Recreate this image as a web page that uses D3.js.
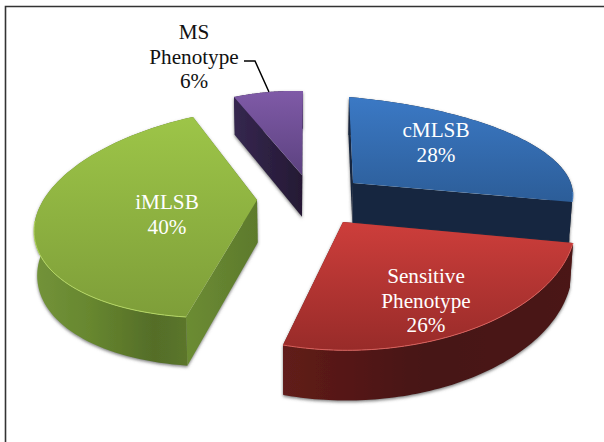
<!DOCTYPE html>
<html>
<head>
<meta charset="utf-8">
<script src="https://cdn.jsdelivr.net/npm/d3@7/dist/d3.min.js"></script>
<style>
  html, body { margin: 0; padding: 0; background: #fff; }
  svg { display: block; }
  text { font-family: "Liberation Serif", "Times New Roman", serif; font-size: 21.2px; text-anchor: middle; }
</style>
</head>
<body>
<svg id="chart" width="604" height="442"></svg>
<script>
// Share of each phenotype, clockwise from twelve o'clock.
const categories = ["cMLSB", "Sensitive Phenotype", "iMLSB", "MS Phenotype"];
const shares = [28, 26, 40, 6];
const labelLines = [["cMLSB"], ["Sensitive", "Phenotype"], ["iMLSB"], ["MS", "Phenotype"]];

// Exploded 3-D layout: each wedge has its own projective frame, given by where
// its tip, first edge, outer arc middle and last edge land on the page.
const frames = [
  { tip: [353, 183], start: [349, 97],  mid: [520, 138], end: [572, 202] },
  { tip: [343, 222], start: [573, 243], mid: [467, 331], end: [283, 345] },
  { tip: [257, 200], start: [186, 317], mid: [35, 221],  end: [193, 117] },
  { tip: [302, 175], start: [234, 97],  mid: [269, 92],  end: [303, 91] }
];
const labelAnchors = [[436, 137], [426, 283], [167, 209], [194, 39]];
const labelFill = ["#fff", "#fff", "#fff", "#111"];

const faceColors = [["#3b79c5", "#2c5d98"], ["#cd3e3b", "#982b29"], ["#9dc548", "#7e9e39"], ["#7f5aa7", "#5c4280"]];
const rimColors = ["#4a86cc", "#d9605c", "#b4d663", "#8d6ab3"];
const wallStops = [
  [[0, "#14263f"], [1, "#14263f"]],
  [[0, "#611c1a"], [0.5, "#461312"], [1, "#4b1614"]],
  [[0, "#73933a"], [0.35, "#67872f"], [0.75, "#546d28"], [1, "#5d782b"]],
  [[0, "#35274f"], [1, "#251934"]]
];
const radialWallColors = [["#14263f", "#14263f"], ["#611c1a", "#611c1a"], ["#6c8c33", "#5d7a2c"], ["#35274f", "#251934"]];

const svg = d3.select("#chart");
const defs = svg.append("defs");

// Soft grey halo under the extruded walls.
defs.append("filter").attr("id", "wallShadow")
    .attr("x", "-10%").attr("y", "-10%").attr("width", "120%").attr("height", "120%")
  .append("feDropShadow")
    .attr("dx", 0).attr("dy", 1.5).attr("stdDeviation", 1.8)
    .attr("flood-color", "#555").attr("flood-opacity", 0.75);

function gradient(id, x2, y2, stops) {
  const g = defs.append("linearGradient").attr("id", id)
    .attr("x1", 0).attr("y1", 0).attr("x2", x2).attr("y2", y2);
  stops.forEach(([o, c]) => g.append("stop").attr("offset", o).attr("stop-color", c));
}

// Gaussian elimination for the six projective coefficients.
function solve(A, b) {
  const n = b.length, m = A.map((r, i) => [...r, b[i]]);
  for (let i = 0; i < n; i++) {
    let p = i;
    for (let r = i + 1; r < n; r++) if (Math.abs(m[r][i]) > Math.abs(m[p][i])) p = r;
    [m[i], m[p]] = [m[p], m[i]];
    for (let r = 0; r < n; r++) {
      if (r === i) continue;
      const f = m[r][i] / m[i][i];
      for (let c = i; c <= n; c++) m[r][c] -= f * m[i][c];
    }
  }
  return m.map((r, i) => r[n] / r[i]);
}

// Projects a (angle, radius) pair of one wedge onto the page.
function projector(frame, arc) {
  const [x0, y0] = frame.tip;
  const theta = [arc.startAngle, (arc.startAngle + arc.endAngle) / 2, arc.endAngle];
  const pts = [frame.start, frame.mid, frame.end];
  const A = [], b = [];
  theta.forEach((t, i) => {
    const u = Math.sin(t), v = -Math.cos(t), X = pts[i][0] - x0, Y = pts[i][1] - y0;
    A.push([u, v, 0, 0, -X * u, -X * v]); b.push(X);
    A.push([0, 0, u, v, -Y * u, -Y * v]); b.push(Y);
  });
  const [p, q, r, s, g, h] = solve(A, b);
  return (t, rad) => {
    const u = rad * Math.sin(t), v = -rad * Math.cos(t), w = 1 + g * u + h * v;
    return [x0 + (p * u + q * v) / w, y0 + (r * u + s * v) / w];
  };
}

// The floor of the wedge: lower on the page where it is nearer the viewer.
const depthAt = d3.scaleLinear().domain([97, 345]).range([38, 50]);
const lower = ([x, y]) => [x + (300 - x) * 0.012, y + depthAt(y)];

const line = d3.line();
const pie = d3.pie().sort(null).value(d => d);
const arcs = pie(shares);
const drawOrder = [3, 2, 0, 1];

drawOrder.forEach(i => {
  const arc = arcs[i];
  const project = projector(frames[i], arc);
  const anglesAlong = d3.range(0, 81).map(k => arc.startAngle + (arc.endAngle - arc.startAngle) * k / 80);
  const arcPts = anglesAlong.map(t => project(t, 1));
  const tip = frames[i].tip;
  const floorArc = arcPts.map(lower);

  gradient("wall" + i, 1, 0, wallStops[i]);
  gradient("radial" + i, 1, 0, radialWallColors[i].map((c, k) => [k, c]));
  gradient("face" + i, 0, 1, faceColors[i].map((c, k) => [k, c]));

  const slice = svg.append("g").attr("class", "slice").attr("data-category", categories[i]);
  const walls = slice.append("g").attr("filter", "url(#wallShadow)");
  [arcPts[0], arcPts[80]].forEach(edge => {
    walls.append("path")
      .attr("d", line([tip, edge, lower(edge), lower(tip)]) + "Z")
      .attr("fill", `url(#radial${i})`);
  });
  walls.append("path")
    .attr("d", line(arcPts.concat(floorArc.slice().reverse())) + "Z")
    .attr("fill", `url(#wall${i})`);

  slice.append("path")
    .attr("d", line([tip].concat(arcPts)) + "Z")
    .attr("fill", `url(#face${i})`);

  // Light catches only the part of the rim turned toward the viewer.
  const frontRim = arcPts.filter((p, k) => Math.cos(anglesAlong[k]) < -0.05);
  if (frontRim.length > 1) {
    slice.append("path")
      .attr("d", line(frontRim))
      .attr("fill", "none")
      .attr("stroke", rimColors[i])
      .attr("stroke-width", 1);
  }
});

// Leader from the outside label to its wedge.
const msProject = projector(frames[3], arcs[3]);
const msMid = msProject((arcs[3].startAngle + arcs[3].endAngle) / 2, 1);
svg.append("path")
  .attr("d", line([[244, 61], [255, 61], msMid]))
  .attr("fill", "none").attr("stroke", "#000").attr("stroke-width", 1.5);

// Labels: category lines followed by the percentage.
const leading = 24.5;
categories.forEach((c, i) => {
  const [x, y] = labelAnchors[i];
  const t = svg.append("text").attr("fill", labelFill[i]);
  labelLines[i].concat(shares[i] + "%").forEach((s, k) => {
    t.append("tspan").attr("x", x).attr("y", y + k * leading).text(s);
  });
});

// Page frame: top and left rules.
svg.append("path")
  .attr("d", line([[5.5, 442], [5.5, 6.5], [604, 6.5]]))
  .attr("fill", "none").attr("stroke", "#333").attr("stroke-width", 1.6);
</script>
</body>
</html>
